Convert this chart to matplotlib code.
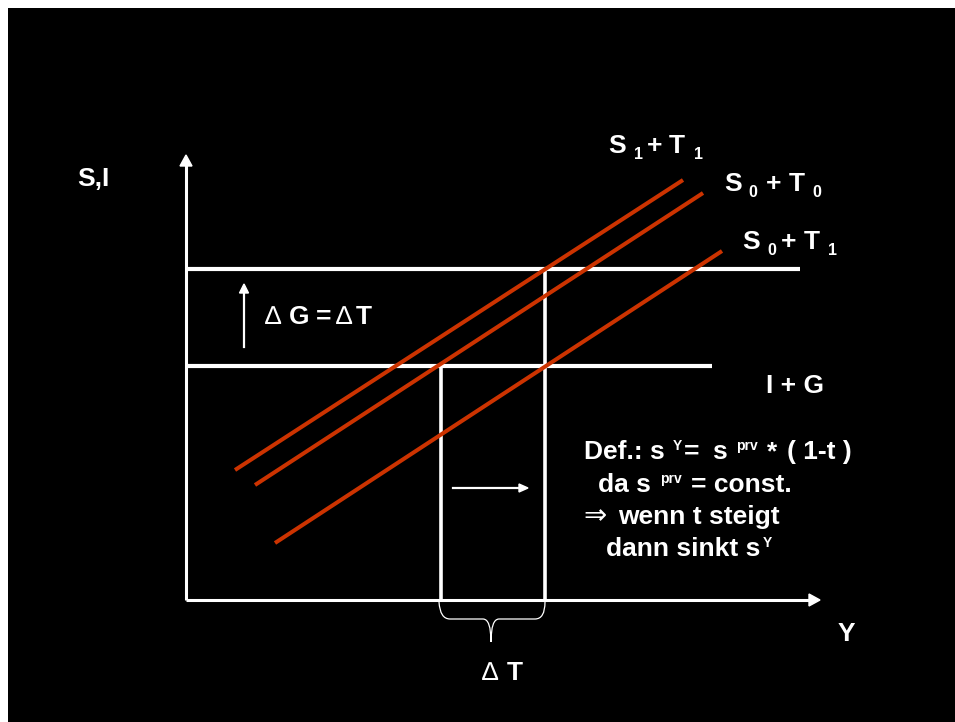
import matplotlib
matplotlib.use("Agg")
import matplotlib.pyplot as plt
from matplotlib.patches import Rectangle, Polygon, PathPatch
from matplotlib.path import Path

# ---- diagram data (pixel-space coordinates of the schematic) ----
axis_origin = (186, 600)
y_axis_top = 155
x_axis_right = 820

# horizontal levels: (y, x_end)
level_names = ["I + G (new)", "I + G"]
level_y = [269, 366]
level_xend = [800, 712]

# vertical drop lines: (x, y_top)
vline_x = [441, 545]
vline_top = [366, 269]

# savings + tax lines (start/end points)
line_names = ["S1+T1", "S0+T0", "S0+T1"]
line_x0 = [235, 255, 275]
line_y0 = [470, 485, 543]
line_x1 = [683, 703, 722]
line_y1 = [180, 193, 251]

RED = "#CC3300"
W = "white"
FAM = ["Liberation Sans", "DejaVu Sans"]

fig = plt.figure(figsize=(9.55, 7.22), dpi=100, facecolor="white")
ax = fig.add_axes([0, 0, 1, 1])
ax.set_xlim(0, 955)
ax.set_ylim(722, 0)
ax.axis("off")
ax.add_patch(Rectangle((8, 8), 947, 714, facecolor="black", edgecolor="none", zorder=0))

# axes
ox, oy = axis_origin
ax.plot([ox, ox], [oy, y_axis_top + 8], color=W, lw=2.2, solid_capstyle="butt", zorder=3)
ax.add_patch(Polygon([[ox, y_axis_top], [ox - 6, y_axis_top + 11], [ox + 6, y_axis_top + 11]],
                     closed=True, color=W, zorder=3))
ax.plot([ox, x_axis_right - 8], [oy, oy], color=W, lw=2.2, solid_capstyle="butt", zorder=3)
ax.add_patch(Polygon([[x_axis_right, oy], [x_axis_right - 11, oy - 6], [x_axis_right - 11, oy + 6]],
                     closed=True, color=W, zorder=3))

# horizontal levels
for y, xe in zip(level_y, level_xend):
    ax.plot([ox + 2, xe], [y, y], color=W, lw=3.0, solid_capstyle="butt", zorder=2)

# vertical lines
for x, yt in zip(vline_x, vline_top):
    ax.plot([x, x], [yt, oy], color=W, lw=2.6, solid_capstyle="butt", zorder=2)

# red lines
for x0, y0, x1, y1 in zip(line_x0, line_y0, line_x1, line_y1):
    ax.plot([x0, x1], [y0, y1], color=RED, lw=2.9, solid_capstyle="butt", zorder=4)

# small up arrow (delta G)
ax.plot([244, 244], [347, 292], color=W, lw=1.6, zorder=3)
ax.add_patch(Polygon([[244, 284], [239.5, 293], [248.5, 293]], closed=True, color=W, zorder=3))

# small right arrow
ax.plot([453, 520], [488, 488], color=W, lw=1.6, zorder=3)
ax.add_patch(Polygon([[528, 488], [519, 484], [519, 492]], closed=True, color=W, zorder=3))

# brace under x-axis
verts = [(439, 602), (440, 619), (450, 619),
         (483, 619),
         (491, 619), (491, 642),
         (491, 619), (499, 619),
         (535, 619),
         (545, 619), (545, 602)]
codes = [Path.MOVETO, Path.CURVE3, Path.CURVE3,
         Path.LINETO,
         Path.CURVE3, Path.CURVE3,
         Path.CURVE3, Path.CURVE3,
         Path.LINETO,
         Path.CURVE3, Path.CURVE3]
ax.add_patch(PathPatch(Path(verts, codes), facecolor="none", edgecolor=W, lw=0.9, zorder=3))


def txt(x, y, s, size=19, weight="bold"):
    ax.text(x, y, s, fontsize=size, fontweight=weight, family=FAM, color=W,
            ha="left", va="baseline", zorder=5)


# labels
txt(77, 186, "S,I")
txt(766, 393, "I + G")
txt(838, 641, "Y")

# curve labels with subscripts
def sublabel(xs, ys, parts):
    for (s, sub), x in zip(parts, xs):
        if sub:
            txt(x, ys + 6, s, size=11.5)
        else:
            txt(x, ys, s)

sublabel([608, 634, 647, 669, 694], 153, [("S", 0), ("1", 1), ("+", 0), ("T", 0), ("1", 1)])
sublabel([724, 748, 766, 789, 812], 191, [("S", 0), ("0", 1), ("+", 0), ("T", 0), ("0", 1)])
sublabel([742, 767, 781, 804, 828], 249, [("S", 0), ("0", 1), ("+", 0), ("T", 0), ("1", 1)])

# delta G = delta T
txt(265, 324, "\u2206", weight="normal")
txt(289, 324, "G")
txt(316, 324, "=")
txt(336, 324, "\u2206", weight="normal")
txt(356, 324, "T")

# delta T under brace
txt(482, 680, "\u2206", weight="normal")
txt(507, 680, "T")

# definition text
FS = 19
SS = 10
txt(584, 459, "Def.: s", size=FS)
txt(673, 450, "Y", size=SS)
txt(684, 459, "=", size=FS)
txt(712, 459, "s", size=FS)
txt(736, 450, "prv", size=SS)
txt(767, 459, "*", size=FS)
txt(787, 459, "( 1-t )", size=FS)

txt(598, 492, "da s", size=FS)
txt(660, 483, "prv", size=SS)
txt(691, 492, "= const.", size=FS)

txt(583, 524, "\u21D2", size=FS + 1, weight="normal")
txt(618, 524, "wenn t steigt", size=FS)

txt(606, 556, "dann sinkt s", size=FS)
txt(763, 547, "Y", size=SS)

fig.savefig("out.png", dpi=100, facecolor=fig.get_facecolor())
